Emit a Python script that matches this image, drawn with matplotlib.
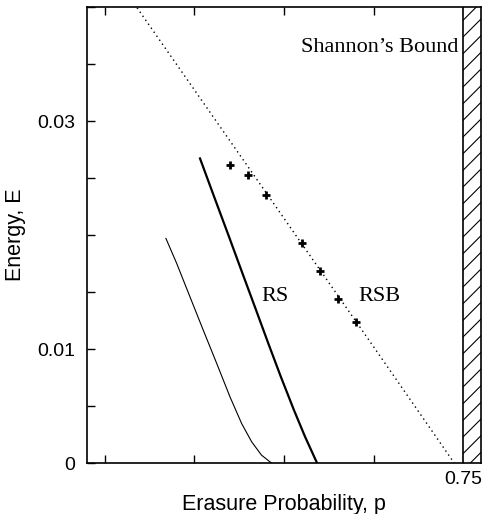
import matplotlib
matplotlib.use("Agg")
import matplotlib.pyplot as plt

# ── data ──────────────────────────────────────────────────────────────────────
rs_thin_p = [0.5842, 0.5902, 0.5976, 0.6050, 0.6125, 0.6199, 0.6264, 0.6320, 0.6375, 0.6431]
rs_thin_e = [0.01971, 0.01752, 0.01459, 0.01167, 0.00875, 0.00582, 0.00348, 0.00187, 0.00070, 0.0]

rs_thick_p = [0.6032, 0.6111, 0.6194, 0.6269, 0.6338, 0.6413, 0.6483, 0.6556, 0.6618, 0.6685]
rs_thick_e = [0.02673, 0.02336, 0.01985, 0.01664, 0.01371, 0.01050, 0.00757, 0.00465, 0.00231, 0.0]

bound_p = [0.565, 0.62, 0.66, 0.70, 0.745]
bound_e = [0.04065, 0.02825, 0.01923, 0.01021, 0.0]

rsb_p = [0.62, 0.63, 0.64, 0.66, 0.67, 0.68, 0.69]
rsb_e = [0.02614, 0.02526, 0.02351, 0.01927, 0.01684, 0.01439, 0.01239]

shannon_p = 0.75
yticks = [0, 0.005, 0.01, 0.015, 0.02, 0.025, 0.03, 0.035, 0.04]
ylabels = ["0", "", "0.01", "", "", "", "0.03", "", ""]
xticks = [0.55, 0.60, 0.65, 0.70, 0.75]
xlabels = ["", "", "", "", "0.75"]

SANS = "Liberation Sans"
SERIF = "Liberation Serif"
plt.rcParams["hatch.linewidth"] = 0.8

fig = plt.figure(figsize=(4.87, 5.14), dpi=100)
ax = fig.add_axes([0.178, 0.099, 0.810, 0.887])

ax.plot(rs_thin_p, rs_thin_e, color="black", lw=0.8)
ax.plot(rs_thick_p, rs_thick_e, color="black", lw=1.6)
ax.plot(bound_p, bound_e, color="black", lw=1.0, linestyle=(0, (1, 2.5)))
ax.plot(rsb_p, rsb_e, linestyle="none", marker="+", color="black",
        markersize=6, markeredgewidth=2)

# hatched region beyond Shannon's bound
ax.axvspan(shannon_p, 0.76, facecolor="white", edgecolor="black",
           hatch="//", lw=1.2, zorder=3)

ax.text(0.6372, 0.0146, "RS", family=SERIF, fontsize=16, ha="left", va="center")
ax.text(0.6913, 0.0146, "RSB", family=SERIF, fontsize=16, ha="left", va="center")
ax.text(0.7475, 0.0365, "Shannon\u2019s Bound", family=SERIF, fontsize=16,
        ha="right", va="center")

ax.set_xlim(0.54, 0.76)
ax.set_ylim(0, 0.04)
ax.set_xticks(xticks)
ax.set_xticklabels(xlabels, family=SANS, fontsize=14)
ax.set_yticks(yticks)
ax.set_yticklabels(ylabels, family=SANS, fontsize=14)
ax.tick_params(axis="both", direction="in", length=6, width=1.0)
ax.tick_params(axis="x", top=True, pad=6)
ax.tick_params(axis="y", pad=8)
for s in ax.spines.values():
    s.set_linewidth(1.2)

ax.set_xlabel("Erasure Probability, p", family=SANS, fontsize=15.5, labelpad=4)
ax.set_ylabel("Energy, E", family=SANS, fontsize=15.5, labelpad=8)

fig.savefig("out.png", dpi=100)
